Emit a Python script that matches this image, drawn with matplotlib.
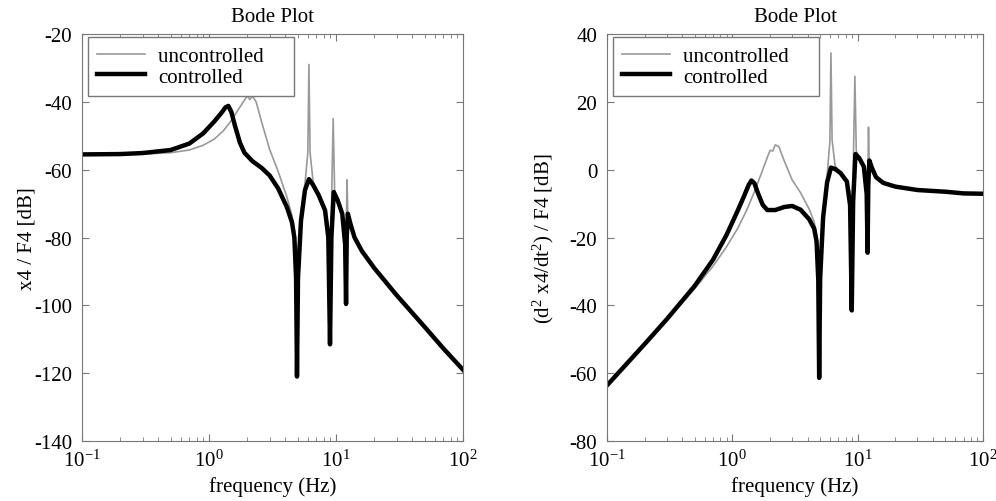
import numpy as np
import matplotlib
matplotlib.use("Agg")
import matplotlib.pyplot as plt

plt.rcParams['font.family'] = ['Liberation Serif', 'DejaVu Serif']
plt.rcParams['mathtext.fontset'] = 'custom'
plt.rcParams['mathtext.rm'] = 'Liberation Serif'
plt.rcParams['mathtext.it'] = 'Liberation Serif:italic'
plt.rcParams['axes.unicode_minus'] = False

# frequency grid (Hz) and magnitudes (dB)
freq_c = [0.1, 0.2, 0.3, 0.5, 0.7, 0.9, 1.1, 1.25, 1.35, 1.42, 1.5, 1.6, 1.75,
          1.9, 2.2, 2.6, 3.0, 3.5, 4.1, 4.5, 4.7, 4.85, 4.93, 5.02, 5.3, 5.7,
          6.12, 6.6, 7.3, 8.2, 8.7, 8.97, 9.2, 9.6, 10.3, 11.2, 11.8, 12.0,
          12.15, 12.4, 13.0, 14, 16, 20, 30, 50, 70, 100]
disp_c = [-55.5, -55.4, -55.1, -54.2, -52.3, -49.3, -45.8, -43.3, -41.6, -41.2,
          -43.0, -47.0, -52.0, -55.0, -57.5, -59.5, -61.7, -65.5, -71.0, -75.5,
          -80.0, -92.0, -121.0, -92.0, -75.0, -66.0, -62.8, -64.5, -67.5, -72.0,
          -80.0, -111.5, -80.0, -66.6, -69.0, -73.0, -82.0, -99.6, -80.0, -73.0,
          -76.0, -80.0, -84.0, -89.0, -97.0, -106.4, -112.7, -119.0]
acc_c = [-63.6, -51.4, -44.1, -34.3, -26.6, -19.2, -12.2, -7.5, -4.5, -3.2,
         -4.0, -6.9, -10.4, -11.9, -11.9, -11.0, -10.7, -11.8, -14.6, -17.4,
         -21.2, -32.6, -61.4, -32.0, -14.1, -3.8, 0.6, 0.2, -1.0, -3.5,
         -10.5, -41.5, -9.5, 4.6, 3.4, 0.9, -7.2, -24.5, -4.7, 2.7,
         0.5, -2.2, -3.9, -5.0, -6.0, -6.5, -7.0, -7.1]

freq_u = [0.1, 0.2, 0.3, 0.5, 0.7, 0.9, 1.1, 1.3, 1.5, 1.7, 1.9, 2.0, 2.1, 2.2,
          2.35, 2.6, 3.0, 3.5, 4.1, 4.5, 4.7, 4.85, 4.93, 5.02, 5.3, 5.7, 6.0,
          6.12, 6.25, 6.6, 7.3, 8.2, 8.7, 8.97, 9.2, 9.5, 9.75, 10.3, 11.2,
          11.8, 12.0, 12.2, 12.4, 13.0, 14, 16, 20, 30, 50, 70, 100]
disp_u = [-55.5, -55.5, -55.4, -55.0, -54.2, -52.8, -51.0, -48.5, -45.5, -42.3,
          -39.5, -38.3, -39.3, -38.3, -40.0, -46.0, -54.0, -60.5, -68.0, -73.5,
          -78.0, -84.0, -88.0, -84.0, -74.0, -64.0, -55.0, -29.0, -55.0, -63.5,
          -67.5, -72.0, -76.0, -84.0, -72.0, -45.0, -66.0, -69.0, -73.0,
          -78.0, -84.0, -63.0, -74.0, -76.5, -80.0, -84.0, -89.0, -97.0,
          -106.4, -112.7, -119.0]
acc_u = [-63.6, -51.5, -44.4, -35.1, -28.5, -22.7, -17.4, -12.0, -6.5, -1.2,
         3.6, 5.7, 5.5, 7.3, 6.8, 2.5, -3.0, -6.8, -11.6, -15.4,
         -19.2, -24.6, -28.4, -24.0, -13.1, -1.8, 8.1, 34.4, 8.8, 1.2,
         -1.0, -3.5, -6.5, -14.0, -1.5, 27.5, 5.5, 3.4, 0.9,
         -3.2, -8.9, 12.5, -1.3, 0.0, -2.2, -3.9, -5.0, -6.0,
         -6.5, -7.0, -7.1]

fig = plt.figure(figsize=(9.96, 5.02), dpi=100)
ax1 = fig.add_axes([82 / 996, 60 / 502, 381 / 996, 407 / 502])
ax2 = fig.add_axes([607 / 996, 60 / 502, 376 / 996, 407 / 502])

panels = [
    (ax1, disp_u, disp_c, (-140, -20), 'x4 / F4 [dB]', -2, 381),
    (ax2, acc_u, acc_c, (-80, 40), r'(d$^2$ x4/dt$^2$) / F4 [dB]', 10, 376),
]

for ax, unc, con, ylim, ylab, ypad, wpx in panels:
    ax.semilogx(freq_u, unc, color='#999999', lw=1.2, label='uncontrolled    ')
    ax.semilogx(freq_c, con, color='black', lw=3.2, label='controlled')
    ax.set_xlim(0.1, 100)
    ax.set_ylim(*ylim)
    ax.set_yticks(np.arange(ylim[0], ylim[1] + 1, 20))
    ax.tick_params(which='both', direction='in', top=True, right=True,
                   labelsize=15, color='#777777')
    ax.tick_params(axis='y', pad=7)
    ax.tick_params(axis='x', pad=6)
    ax.tick_params(which='major', length=5)
    ax.tick_params(which='minor', length=3)
    for sp in ax.spines.values():
        sp.set_color('#777777')
    ax.set_xlabel('frequency (Hz)', fontsize=15, labelpad=4)
    ax.set_ylabel(ylab, fontsize=15, labelpad=ypad)
    ax.set_title('Bode Plot', fontsize=15, pad=9)
    leg = ax.legend(loc='upper left', bbox_to_anchor=(6 / wpx, 1 - 3 / 407),
                    borderaxespad=0, fontsize=15, fancybox=False,
                    handlelength=2.3, handletextpad=0.6, borderpad=0.45,
                    labelspacing=0.05, framealpha=1)
    leg.get_frame().set_edgecolor('#777777')

fig.savefig('out.png', dpi=100)
